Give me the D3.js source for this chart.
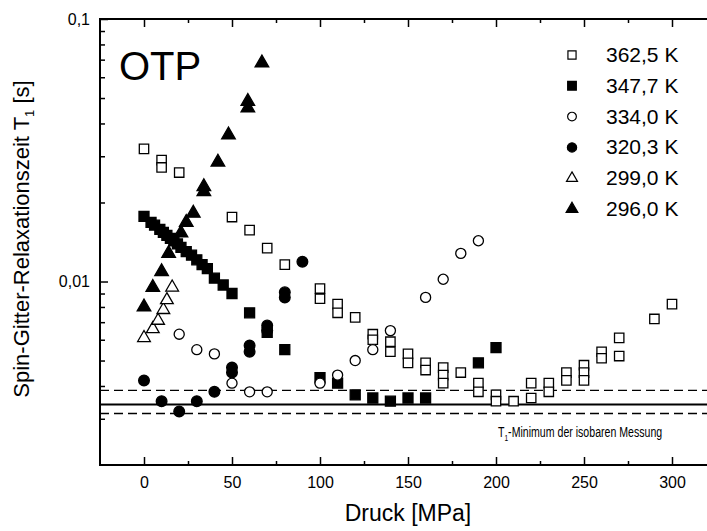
<!DOCTYPE html>
<html><head><meta charset="utf-8">
<script src="https://cdn.jsdelivr.net/npm/d3@7"></script>
<style>
html,body{margin:0;padding:0;background:#fff;}
svg{display:block;font-family:Arial,"Liberation Sans",Helvetica,sans-serif;}
</style></head><body>
<svg id="c" width="707" height="531"></svg>
<script>
// ---- data ----
const seriesNames = ["362,5 K","347,7 K","334,0 K","320,3 K","299,0 K","296,0 K"];
const p362 = [0,10,10,20,50,60,70,80,100,100,110,110,120,130,130,140,140,150,150,160,160,170,170,170,180,190,190,200,200,210,220,220,230,230,240,240,250,250,250,260,260,270,270,290,300];
const t362 = [0.032,0.029,0.0272,0.026,0.0176,0.0157,0.0134,0.0116,0.0094,0.0086,0.0082,0.0076,0.0073,0.0063,0.0060,0.0059,0.0054,0.0053,0.0049,0.0049,0.0046,0.0047,0.0044,0.0041,0.0045,0.0041,0.0038,0.0037,0.0035,0.0035,0.0041,0.0036,0.0041,0.0038,0.0045,0.0042,0.0048,0.0045,0.0042,0.0054,0.0051,0.0061,0.0052,0.0072,0.0082];
const p348 = [0,4,6,9,11,13,15,17,19,21,24,27,30,33,36,40,45,50,60,70,80,100,110,120,130,140,150,160,190,200];
const t348 = [0.0177,0.0168,0.0164,0.0158,0.0154,0.0150,0.0146,0.0143,0.0139,0.0135,0.0130,0.0126,0.0121,0.0116,0.0112,0.0103,0.0097,0.0090,0.0076,0.0064,0.0055,0.0043,0.0041,0.0037,0.0036,0.0035,0.0036,0.0036,0.0049,0.0056];
const p334 = [20,30,40,50,60,70,100,110,120,130,140,160,170,180,190];
const t334 = [0.0063,0.0055,0.0053,0.0041,0.0038,0.0038,0.0041,0.0044,0.0050,0.0055,0.0065,0.0087,0.0102,0.0128,0.0143];
const p320 = [0,10,20,30,40,50,50,60,60,70,70,80,80,90];
const t320 = [0.0042,0.0035,0.0032,0.0035,0.0038,0.0047,0.0045,0.0057,0.0054,0.0068,0.0065,0.0091,0.0087,0.0119];
const p299 = [0,5,8,11,13,16];
const t299 = [0.0061,0.0066,0.0071,0.0078,0.0085,0.0095];
const p296 = [0,5,10,14,21,24,28,34,34,42,48,59,59,67];
const t296 = [0.0080,0.0095,0.0109,0.0128,0.0153,0.0168,0.0182,0.0230,0.0220,0.0285,0.0362,0.0485,0.0458,0.0680];
const t1Min = 0.0034;
const t1Band = [0.00314, 0.00385];
const xMajorTicks = [0,50,100,150,200,250,300];
const xMinorTicks = [25,75,125,175,225,275];
const yMajorTicks = [0.01,0.1];
const yMajorLabels = ["0,01","0,1"];
const yMinorTicks = [0.003,0.004,0.005,0.006,0.007,0.008,0.009,0.02,0.03,0.04,0.05,0.06,0.07,0.08,0.09];

// ---- layout ----
const L=100, R=707.2, T=19, B=465;
const svg = d3.select("#c");
const x = d3.scaleLinear().domain([-25,320]).range([L,R]);
const y = d3.scaleLog().domain([0.002,0.1]).range([B,T]);

const styles = [
  {shape:d3.symbolSquare, fill:"#fff", size:88},
  {shape:d3.symbolSquare, fill:"#000", size:100},
  {shape:d3.symbolCircle, fill:"#fff", size:80},
  {shape:d3.symbolCircle, fill:"#000", size:90},
  {shape:d3.symbolTriangle, fill:"#fff", size:70},
  {shape:d3.symbolTriangle, fill:"#000", size:80}
];
const P = [p362,p348,p334,p320,p299,p296];
const V = [t362,t348,t334,t320,t299,t296];

// reference lines
const gl = svg.append("g");
gl.append("line").attr("x1",L).attr("x2",R).attr("y1",y(t1Min)).attr("y2",y(t1Min)).attr("stroke","#000").attr("stroke-width",2);
t1Band.forEach(v=>gl.append("line").attr("x1",L).attr("x2",R).attr("y1",y(v)).attr("y2",y(v)).attr("stroke","#000").attr("stroke-width",1.4).attr("stroke-dasharray","9,5"));

// points
P.forEach((ps,i)=>{
  const st = styles[i];
  const sym = d3.symbol().type(st.shape).size(st.size);
  svg.append("g").selectAll("path").data(ps.map((p,j)=>[p,V[i][j]])).join("path")
    .attr("d",sym)
    .attr("transform",d=>`translate(${x(d[0])},${y(d[1])})`)
    .attr("fill",st.fill).attr("stroke","#000").attr("stroke-width",1.3);
});

// axes
function styleAxis(g){ g.select(".domain").remove(); g.selectAll("line").attr("stroke","#000").attr("stroke-width",1.5); g.selectAll("text").attr("fill","#000").attr("font-family","Arial, 'Liberation Sans', sans-serif"); }
svg.append("g").attr("transform",`translate(0,${B})`)
  .call(d3.axisBottom(x).tickValues(xMajorTicks).tickSize(-8).tickPadding(12).tickFormat(d3.format("d")))
  .call(styleAxis).selectAll("text").attr("font-size",16);
svg.append("g").attr("transform",`translate(0,${B})`)
  .call(d3.axisBottom(x).tickValues(xMinorTicks).tickSize(-4).tickFormat(""))
  .call(styleAxis);
svg.append("g").attr("transform",`translate(0,${T})`)
  .call(d3.axisTop(x).tickValues(xMajorTicks).tickSize(-8).tickFormat(""))
  .call(styleAxis);
svg.append("g").attr("transform",`translate(0,${T})`)
  .call(d3.axisTop(x).tickValues(xMinorTicks).tickSize(-4).tickFormat(""))
  .call(styleAxis);
svg.append("g").attr("transform",`translate(${L},0)`)
  .call(d3.axisLeft(y).tickValues(yMajorTicks).tickSize(-8).tickPadding(10).tickFormat((d,i)=>yMajorLabels[i]))
  .call(styleAxis).selectAll("text").attr("font-size",16);
svg.append("g").attr("transform",`translate(${L},0)`)
  .call(d3.axisLeft(y).tickValues(yMinorTicks).tickSize(-5).tickFormat(""))
  .call(styleAxis);
// frame lines
svg.append("path").attr("d",`M${R},${T}H${L}V${B}H${R}`).attr("fill","none").attr("stroke","#000").attr("stroke-width",2);

// texts
svg.append("text").attr("x",119).attr("y",80).attr("font-size",40).text("OTP");
const yl = svg.append("text").attr("transform",`translate(29,239) rotate(-90)`).attr("text-anchor","middle").attr("font-size",22);
yl.append("tspan").text("Spin-Gitter-Relaxationszeit T");
yl.append("tspan").attr("font-size",13).attr("dy",5).text("1");
yl.append("tspan").attr("dy",-5).text(" [s]");
svg.append("text").attr("x",408).attr("y",521).attr("text-anchor","middle").attr("font-size",23).text("Druck [MPa]");
const ann = svg.append("g").attr("transform","translate(498,437) scale(0.73,1)")
  .append("text").attr("x",0).attr("y",0).attr("font-size",14.5);
ann.append("tspan").text("T");
ann.append("tspan").attr("font-size",9).attr("dy",4).text("1");
ann.append("tspan").attr("dy",-4).text("-Minimum der isobaren Messung");

// legend
const lg = svg.append("g");
seriesNames.forEach((n,i)=>{
  const yy = 55 + i*30.8;
  const st = styles[i];
  lg.append("path").attr("d",d3.symbol().type(st.shape).size(st.size*0.75)).attr("transform",`translate(572,${yy})`)
    .attr("fill",st.fill).attr("stroke","#000").attr("stroke-width",1.2);
  lg.append("text").attr("x",606).attr("y",yy+7).attr("font-size",21).text(n);
});
</script></body></html>
